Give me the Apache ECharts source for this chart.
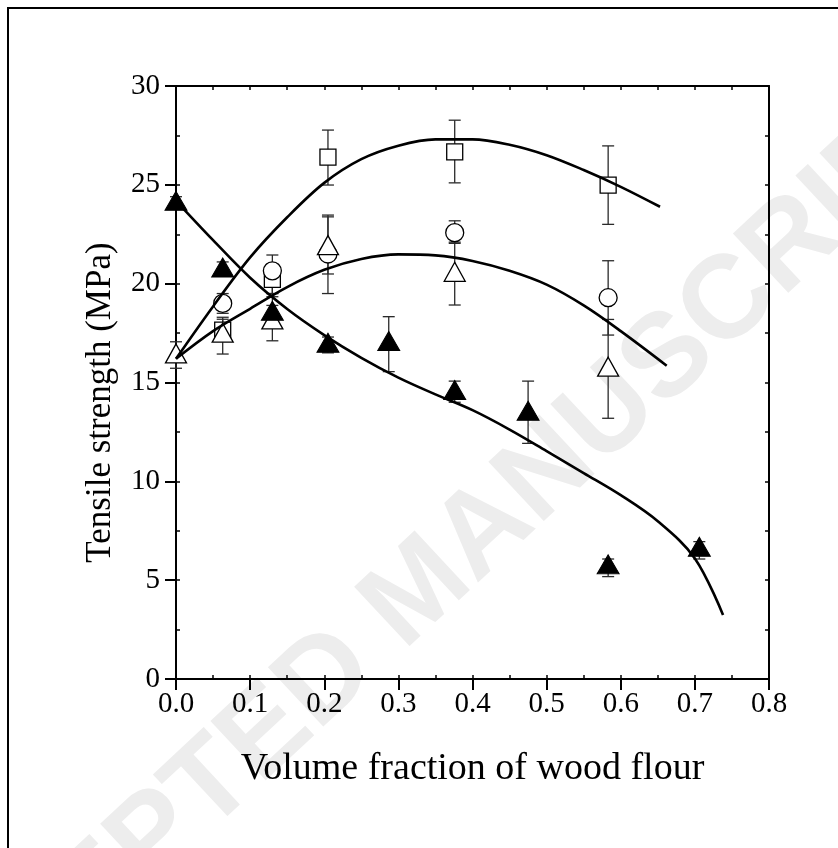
<!DOCTYPE html>
<html><head><meta charset="utf-8">
<script src="https://cdn.jsdelivr.net/npm/echarts@6/dist/echarts.min.js"></script>
<style>html,body{margin:0;padding:0;background:#fff;}#chart{width:838px;height:848px;}</style>
</head><body><div id="chart"></div>
<script>
// ---- data ----
const squareX    = [0.063, 0.130, 0.205, 0.376, 0.583];
const squareY    = [17.65, 20.22, 26.40, 26.67, 24.99];
const squareLow  = [17.10, 19.34, 24.99, 25.10, 23.00];
const squareHigh = [18.20, 21.00, 27.77, 28.27, 26.97];

const circleX    = [0.063, 0.130, 0.205, 0.376, 0.583];
const circleY    = [19.00, 20.65, 21.50, 22.58, 19.29];
const circleLow  = [18.50, 19.50, 19.50, 22.04, 17.40];
const circleHigh = [19.50, 21.45, 23.38, 23.18, 21.16];

const openTriX    = [0.000, 0.063, 0.130, 0.205, 0.376, 0.583];
const openTriY    = [16.47, 17.52, 18.19, 21.95, 20.60, 15.80];
const openTriLow  = [15.72, 16.44, 17.11, 20.49, 18.92, 13.19];
const openTriHigh = [17.06, 18.30, 19.50, 23.47, 22.10, 18.19];

const fillTriX    = [0.000, 0.063, 0.130, 0.205, 0.287, 0.376, 0.475, 0.583, 0.706];
const fillTriY    = [24.19, 20.82, 18.63, 17.01, 17.10, 14.62, 13.57, 5.80, 6.69];
const fillTriLow  = [24.00, 20.50, 18.30, 16.50, 15.55, 14.00, 11.92, 5.18, 6.07];
const fillTriHigh = [24.40, 21.10, 18.90, 17.30, 18.33, 15.07, 15.07, 6.07, 6.95];

// fitted curves
const squareFitX = [0, 0.05, 0.10, 0.15, 0.20, 0.25, 0.30, 0.35, 0.40, 0.45, 0.50, 0.55, 0.60, 0.653];
const squareFitY = [16.2, 18.85, 21.33, 23.36, 25.1, 26.3, 26.98, 27.3, 27.3, 27.03, 26.5, 25.75, 24.9, 23.89];
const circleFitX = [0, 0.05, 0.10, 0.15, 0.20, 0.25, 0.30, 0.35, 0.40, 0.45, 0.50, 0.55, 0.60, 0.662];
const circleFitY = [16.2, 17.6, 18.73, 19.83, 20.7, 21.25, 21.48, 21.43, 21.15, 20.65, 19.95, 18.9, 17.6, 15.85];
const fillFitX = [0, 0.05, 0.10, 0.15, 0.20, 0.25, 0.30, 0.35, 0.40, 0.45, 0.50, 0.55, 0.60, 0.65, 0.70, 0.738];
const fillFitY = [24.19, 22.2, 20.3, 18.72, 17.4, 16.25, 15.25, 14.4, 13.6, 12.62, 11.53, 10.42, 9.3, 7.98, 6.1, 3.24];

const xTickLabels = ['0.0','0.1','0.2','0.3','0.4','0.5','0.6','0.7','0.8'];
const yTickLabels = ['0','5','10','15','20','25','30'];
const xTitle = 'Volume fraction of wood flour';
const yTitle = 'Tensile strength (MPa)';
const watermark = 'ACCEPTED MANUSCRIPT';

// ---- helpers ----
const zip2 = (a, b) => a.map((v, i) => [v, b[i]]);
const zip3 = (a, b, c) => a.map((v, i) => [v, b[i], c[i]]);
const SERIF = '"Liberation Serif", "Times New Roman", serif';

function errRender(params, api) {
  const x = api.value(0), lo = api.value(1), hi = api.value(2);
  const p1 = api.coord([x, lo]), p2 = api.coord([x, hi]);
  const w = 6;
  const st = { stroke: '#2a2a2a', lineWidth: 1.3 };
  return { type: 'group', children: [
    { type: 'line', shape: { x1: p1[0], y1: p1[1], x2: p2[0], y2: p2[1] }, style: st },
    { type: 'line', shape: { x1: p1[0] - w, y1: p1[1], x2: p1[0] + w, y2: p1[1] }, style: st },
    { type: 'line', shape: { x1: p2[0] - w, y1: p2[1], x2: p2[0] + w, y2: p2[1] }, style: st }
  ]};
}
function errSeries(x, lo, hi) {
  return { type: 'custom', renderItem: errRender, data: zip3(x, lo, hi),
           encode: { x: 0, y: [1, 2] }, z: 3, silent: true };
}
function fitSeries(x, y) {
  return { type: 'line', data: zip2(x, y), showSymbol: false, smooth: 0.35,
           lineStyle: { color: '#000', width: 2.6 }, z: 10, silent: true };
}
const axisLineStyle = { color: '#000', width: 2 };
const openStyle = { color: '#fff', borderColor: '#000', borderWidth: 1.3, opacity: 1 };

const option = {
  animation: false,
  backgroundColor: '#fff',
  grid: { left: 176, right: 69, top: 86, bottom: 169 },
  xAxis: [
    { type: 'value', min: 0, max: 0.8, interval: 0.1, position: 'bottom',
      axisLine: { onZero: false, lineStyle: axisLineStyle },
      axisTick: { inside: false, length: 11, lineStyle: { color: '#000', width: 2 } },
      axisLabel: { margin: 11, color: '#000', fontSize: 29, fontFamily: SERIF,
                   formatter: (v) => xTickLabels[Math.round(v * 10)] },
      splitLine: { show: false },
      name: xTitle, nameLocation: 'middle', nameGap: 71,
      nameTextStyle: { color: '#000', fontSize: 38, fontFamily: SERIF } },
    { type: 'value', min: 0, max: 0.8, interval: 0.05, position: 'bottom',
      axisLine: { show: false }, axisLabel: { show: false }, splitLine: { show: false },
      axisTick: { inside: true, length: 4, lineStyle: { color: '#000', width: 1.5 } } },
    { type: 'value', min: 0, max: 0.8, interval: 0.05, position: 'top',
      axisLine: { onZero: false, lineStyle: axisLineStyle }, axisLabel: { show: false }, splitLine: { show: false },
      axisTick: { inside: true, length: 4, lineStyle: { color: '#000', width: 1.5 } } }
  ],
  yAxis: [
    { type: 'value', min: 0, max: 30, interval: 5, position: 'left',
      axisLine: { show: true, onZero: false, lineStyle: axisLineStyle },
      axisTick: { show: true, inside: false, length: 11, lineStyle: { color: '#000', width: 2 } },
      axisLabel: { margin: 16, color: '#000', fontSize: 29, fontFamily: SERIF,
                   formatter: (v) => yTickLabels[Math.round(v / 5)] },
      splitLine: { show: false },
      name: yTitle, nameLocation: 'middle', nameGap: 58, nameRotate: 90,
      nameTextStyle: { color: '#000', fontSize: 35, fontFamily: SERIF, padding: [0, 40, 0, 0] } },
    { type: 'value', min: 0, max: 30, interval: 2.5, position: 'left',
      axisLine: { show: false }, axisLabel: { show: false }, splitLine: { show: false },
      axisTick: { show: true, inside: true, length: 4, lineStyle: { color: '#000', width: 1.5 } } },
    { type: 'value', min: 0, max: 30, interval: 2.5, position: 'right',
      axisLine: { show: true, onZero: false, lineStyle: axisLineStyle }, axisLabel: { show: false }, splitLine: { show: false },
      axisTick: { show: true, inside: true, length: 4, lineStyle: { color: '#000', width: 1.5 } } }
  ],
  graphic: [
    { type: 'text', x: 420, y: 592, rotation: 43 * Math.PI / 180, z: -10, silent: true,
      style: { text: watermark, fill: '#ededed', fontSize: 118, fontWeight: 'bold',
               fontFamily: '"Liberation Sans", Arial, sans-serif', align: 'center', verticalAlign: 'middle' } },
    { type: 'rect', z: 100, silent: true, shape: { x: 8, y: 8, width: 900, height: 900 },
      style: { fill: null, stroke: '#000', lineWidth: 2 } }
  ],
  series: [
    errSeries(squareX, squareLow, squareHigh),
    errSeries(circleX, circleLow, circleHigh),
    errSeries(openTriX, openTriLow, openTriHigh),
    errSeries(fillTriX, fillTriLow, fillTriHigh),
    { type: 'scatter', data: zip2(squareX, squareY), symbol: 'rect', symbolSize: 16, z: 4, itemStyle: openStyle },
    { type: 'scatter', data: zip2(circleX, circleY), symbol: 'circle', symbolSize: 18, z: 5, itemStyle: openStyle },
    { type: 'scatter', data: zip2(openTriX, openTriY), symbol: 'triangle', symbolSize: [21, 19], z: 6, itemStyle: openStyle },
    { type: 'scatter', data: zip2(fillTriX, fillTriY), symbol: 'triangle', symbolSize: [22, 19], z: 7,
      itemStyle: { color: '#000', borderColor: '#000', borderWidth: 1, opacity: 1 } },
    fitSeries(squareFitX, squareFitY),
    fitSeries(circleFitX, circleFitY),
    fitSeries(fillFitX, fillFitY)
  ]
};
const chart = echarts.init(document.getElementById('chart'), null, { renderer: 'canvas' });
chart.setOption(option);
</script>
</body></html>
